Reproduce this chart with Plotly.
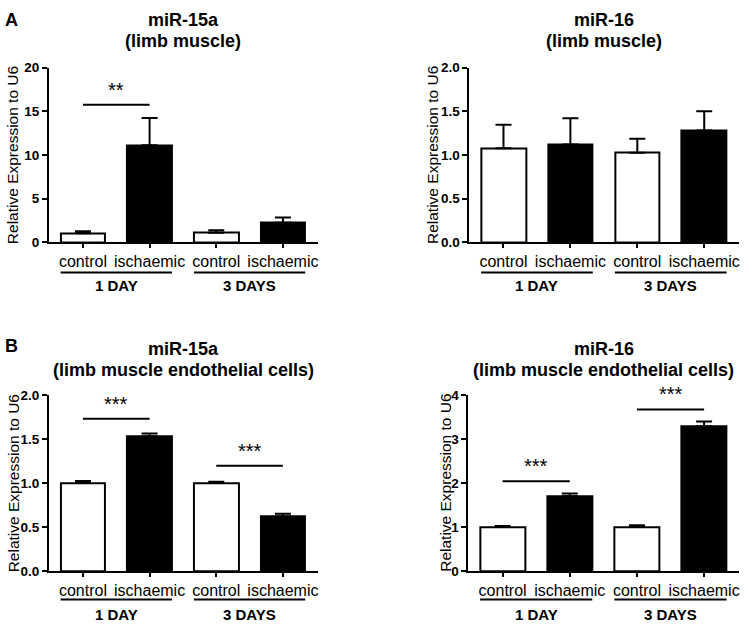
import plotly.graph_objects as go

# ---------------- data ----------------
categories = ["control", "ischaemic", "control", "ischaemic"]
day_labels = ["1 DAY", "3 DAYS"]
is_ischaemic = [False, True, False, True]

panel_titles = [
    ("miR-15a", "(limb muscle)"),
    ("miR-16", "(limb muscle)"),
    ("miR-15a", "(limb muscle endothelial cells)"),
    ("miR-16", "(limb muscle endothelial cells)"),
]
panel_letters = ["A", "", "B", ""]

# mean relative expression and upper SEM
a_mean = [1.04, 11.1, 1.08, 2.23]
a_err = [0.22, 3.13, 0.30, 0.60]
b_mean = [1.075, 1.12, 1.025, 1.28]
b_err = [0.27, 0.30, 0.16, 0.22]
c_mean = [1.0, 1.53, 1.0, 0.62]
c_err = [0.025, 0.035, 0.015, 0.03]
d_mean = [1.0, 1.70, 1.0, 3.29]
d_err = [0.02, 0.06, 0.04, 0.11]

y_max = [20, 2.0, 2.0, 4]
y_dtick = [5, 0.5, 0.5, 1]
y_fmt = ["d", ".1f", ".1f", "d"]

# significance brackets: (x0 index, x1 index, y value, label)
a_sig = [(0, 1, 15.75, "**")]
b_sig = []
c_sig = [(0, 1, 1.733, "***"), (2, 3, 1.197, "***")]
d_sig = [(0, 1, 2.04, "***"), (2, 3, 3.676, "***")]

means = [a_mean, b_mean, c_mean, d_mean]
errs = [a_err, b_err, c_err, d_err]
sigs = [a_sig, b_sig, c_sig, d_sig]

# ---------------- layout geometry ----------------
W, H = 744, 629
FONT = "Liberation Sans, Arial, sans-serif"
BAR_W = 0.67
x_domains = [(49 / W, 318 / W), (470 / W, 740 / W), (49 / W, 318 / W), (469 / W, 740 / W)]
y_domains = [((H - 241) / H, (H - 62) / H), ((H - 241) / H, (H - 62) / H),
             ((H - 577.7) / H, (H - 397.7) / H), ((H - 577.7) / H, (H - 397.7) / H)]
ytitle_x = [13.3 / W, 433.7 / W, 13.3 / W, 445.3 / W]
title_y1 = [(H - 13) / H, (H - 13) / H, (H - 350) / H, (H - 350) / H]
title_y2 = [(H - 35) / H, (H - 35) / H, (H - 372) / H, (H - 372) / H]
underline_y = [(H - 272) / H, (H - 272) / H, (H - 607) / H, (H - 607) / H]
daylabel_y = [(H - 285) / H, (H - 285) / H, (H - 622) / H, (H - 622) / H]
letter_pos = [(12 / W, (H - 13) / H), None, (12 / W, (H - 347) / H), None]

fig = go.Figure()
annotations = []
shapes = []
layout_axes = {}

xs = list(range(len(categories)))

for i in range(4):
    xa = "x" if i == 0 else f"x{i + 1}"
    ya = "y" if i == 0 else f"y{i + 1}"
    fig.add_trace(go.Bar(
        x=xs, y=means[i], width=BAR_W,
        marker=dict(color=["black" if s else "white" for s in is_ischaemic],
                    line=dict(color="black", width=2)),
        error_y=dict(type="data", array=errs[i], arrayminus=[0] * 4, symmetric=False,
                     color="black", thickness=2, width=8),
        xaxis=xa, yaxis=ya, showlegend=False, hoverinfo="skip",
    ))
    xkey = "xaxis" if i == 0 else f"xaxis{i + 1}"
    ykey = "yaxis" if i == 0 else f"yaxis{i + 1}"
    layout_axes[xkey] = dict(
        domain=list(x_domains[i]), anchor=ya, range=[-0.51, 3.52], fixedrange=True,
        tickmode="array", tickvals=xs, ticktext=categories,
        tickfont=dict(family=FONT, size=16, color="black"),
        ticks="outside", ticklen=4, tickwidth=2, tickcolor="black",
        showline=True, linewidth=2, linecolor="black", showgrid=False, zeroline=False,
    )
    layout_axes[ykey] = dict(
        domain=list(y_domains[i]), anchor=xa, range=[0, y_max[i]], fixedrange=True,
        dtick=y_dtick[i], tick0=0, tickformat=y_fmt[i],
        tickfont=dict(family=FONT, size=13.5, color="black", weight="bold"),
        ticks="outside", ticklen=5, tickwidth=2, tickcolor="black",
        showline=True, linewidth=2, linecolor="black", showgrid=False, zeroline=False,
    )
    # panel title (two lines)
    for txt, ty in ((panel_titles[i][0], title_y1[i]), (panel_titles[i][1], title_y2[i])):
        annotations.append(dict(
            text=f"<b>{txt}</b>",
            x=sum(x_domains[i]) / 2, y=ty, xref="paper", yref="paper",
            xanchor="center", yanchor="middle", showarrow=False,
            font=dict(family=FONT, size=18, color="black"),
        ))
    # y axis title
    annotations.append(dict(
        text="Relative Expression to U6", textangle=-90,
        x=ytitle_x[i], y=sum(y_domains[i]) / 2, xref="paper", yref="paper",
        xanchor="center", yanchor="middle", showarrow=False,
        font=dict(family=FONT, size=15.5, color="black"),
    ))
    # day groups
    for g, lab in enumerate(day_labels):
        x0 = 2 * g - BAR_W / 2
        x1 = 2 * g + 1 + BAR_W / 2
        shapes.append(dict(type="line", xref=xa, yref="paper", x0=x0, x1=x1,
                           y0=underline_y[i], y1=underline_y[i],
                           line=dict(color="black", width=2)))
        annotations.append(dict(
            text=f"<b>{lab}</b>", x=2 * g + 0.5, y=daylabel_y[i], xref=xa, yref="paper",
            xanchor="center", yanchor="middle", showarrow=False,
            font=dict(family=FONT, size=15, color="black"),
        ))
    # significance
    for (s0, s1, sy, lab) in sigs[i]:
        shapes.append(dict(type="line", xref=xa, yref=ya, x0=s0, x1=s1, y0=sy, y1=sy,
                           line=dict(color="black", width=2)))
        annotations.append(dict(
            text=lab, x=(s0 + s1) / 2, y=sy, xref=xa, yref=ya,
            xanchor="center", yanchor="middle", yshift=15, showarrow=False,
            font=dict(family=FONT, size=20, color="black"),
        ))
    if letter_pos[i] is not None:
        annotations.append(dict(
            text=f"<b>{panel_letters[i]}</b>", x=letter_pos[i][0], y=letter_pos[i][1],
            xref="paper", yref="paper", xanchor="center", yanchor="middle", showarrow=False,
            font=dict(family=FONT, size=18, color="black"),
        ))

fig.update_layout(
    width=W, height=H, margin=dict(l=0, r=0, t=0, b=0),
    paper_bgcolor="white", plot_bgcolor="white",
    annotations=annotations, shapes=shapes, bargap=0,
    **layout_axes,
)

fig.write_html("out.html", config={"displayModeBar": False},
               post_script="document.body.style.margin='0';document.body.style.overflow='hidden';")
